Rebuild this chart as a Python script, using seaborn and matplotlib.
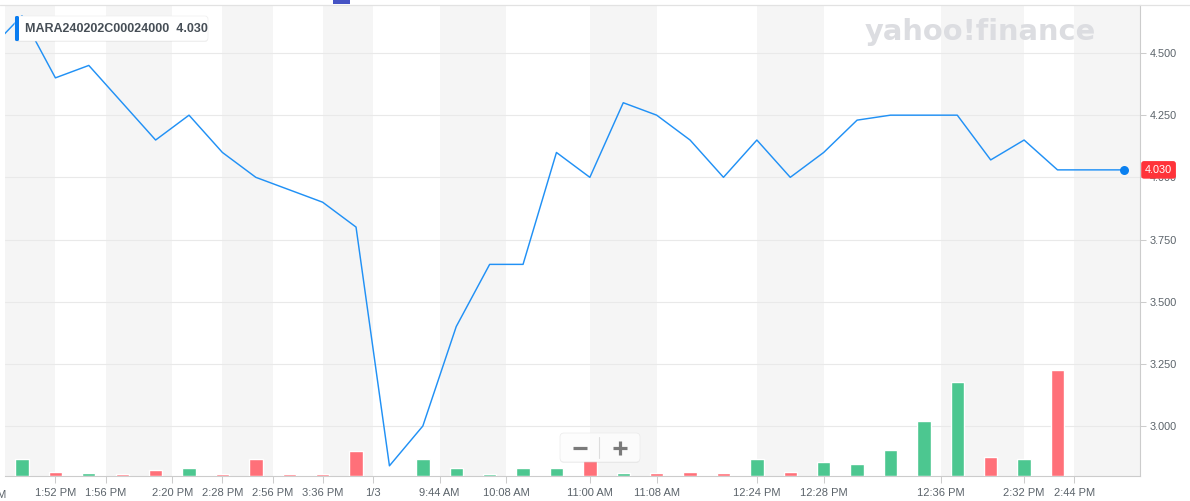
import matplotlib
matplotlib.use("Agg")
import matplotlib.pyplot as plt
import matplotlib.transforms as mtransforms
from matplotlib.patches import FancyBboxPatch, Rectangle
from matplotlib.lines import Line2D
import seaborn as sns
import pandas as pd

# ---------------- data ----------------
price_idx = list(range(-1, 34))
price = [4.51, 4.65, 4.40, 4.45, 4.30, 4.15, 4.25, 4.10, 4.00, 3.95, 3.90,
         3.80, 2.84, 3.00, 3.40, 3.65, 3.65, 4.10, 4.00, 4.30, 4.25, 4.15,
         4.00, 4.15, 4.00, 4.10, 4.23, 4.25, 4.25, 4.25, 4.07, 4.15, 4.03,
         4.03, 4.03]

vol_idx = list(range(0, 34))
volume = [17, 4, 3, 2, 6, 8, 2, 17, 2, 2, 25, 0, 17, 8, 2, 8, 8, 16, 3, 3,
          4, 3, 17, 4, 14, 12, 26, 55, 94, 19, 17, 106, 0, 0]
vol_dir = ["up", "down", "up", "down", "down", "up", "down", "down", "down",
           "down", "down", "none", "up", "up", "up", "up", "up", "down", "up",
           "down", "down", "down", "up", "down", "up", "up", "up", "up", "up",
           "down", "up", "down", "none", "none"]

tick_pos = [1, 2.5, 4.5, 6, 7.5, 9, 10.5, 12.5, 14.5, 17, 19, 22, 24, 27.5,
            30, 31.5]
tick_labels = ["1:52 PM", "1:56 PM", "2:20 PM", "2:28 PM", "2:56 PM",
               "3:36 PM", "1/3", "9:44 AM", "10:08 AM", "11:00 AM",
               "11:08 AM", "12:24 PM", "12:28 PM", "12:36 PM", "2:32 PM",
               "2:44 PM"]
first_label_pos = -1.1
first_label = "1:48 PM"

y_ticks = [3.0, 3.25, 3.5, 3.75, 4.0, 4.25, 4.5]
symbol = "MARA240202C00024000"

# ---------------- style ----------------
W, H = 1190, 501
sns.set_theme(style="white")
plt.rcParams["font.family"] = ["Liberation Sans", "DejaVu Sans"]

fig = plt.figure(figsize=(W / 100, H / 100), dpi=100)
fig.patch.set_facecolor("white")
ax = fig.add_axes([5 / W, 25 / H, 1135 / W, 471 / H])
ax.set_facecolor("white")
XLIM = (-0.509, 33.47)
YLIM = (2.799, 4.693)

# alternating stripes between tick positions
bounds = [XLIM[0]] + tick_pos + [XLIM[1]]
for k in range(len(bounds) - 1):
    if k % 2 == 0:
        ax.axvspan(bounds[k], bounds[k + 1], color="#f5f5f5", lw=0, zorder=0.5)

ax.grid(axis="y", color="#e9e9e9", lw=0.8)
ax.grid(axis="x", visible=False)

df_p = pd.DataFrame({"i": price_idx, "price": price})
sns.lineplot(data=df_p, x="i", y="price", ax=ax, color="#2191f5",
             linewidth=1.05, zorder=3)
sns.scatterplot(x=[price_idx[-1]], y=[price[-1]], ax=ax, s=42,
                color="#0a80f0", linewidth=0, zorder=4)

# volume on twin axis
ax_v = ax.twinx()
df_v = pd.DataFrame({"i": vol_idx, "vol": volume, "dir": vol_dir})
df_v = df_v[df_v["vol"] > 0]
sns.barplot(data=df_v, x="i", y="vol", hue="dir", ax=ax_v,
            palette={"up": "#4cc790", "down": "#ff7079"}, native_scale=True,
            dodge=False, width=0.4, saturation=1, errorbar=None, legend=False)
ax_v.set_ylim(0, 471)
ax_v.set_yticks([])
ax_v.set_ylabel("")
for s in ax_v.spines.values():
    s.set_visible(False)

ax.set_xlim(*XLIM)
ax.set_ylim(*YLIM)
ax.yaxis.tick_right()
ax.set_yticks(y_ticks)
ax.set_yticklabels([f"{v:.3f}" for v in y_ticks])
ax.set_xticks(tick_pos)
ax.set_xticklabels(tick_labels)
ax.set_xlabel("")
ax.set_ylabel("")
ax.tick_params(axis="y", right=True, left=False, length=4, width=0.75,
               color="#cccccc", labelsize=7.8, labelcolor="#5b636a", pad=3)
ax.tick_params(axis="x", bottom=True, length=5, width=0.75, color="#cccccc",
               labelsize=8, labelcolor="#5b636a", pad=3.5)
for side in ["top", "left"]:
    ax.spines[side].set_visible(False)
for side in ["right", "bottom"]:
    ax.spines[side].set_color("#cccccc")
    ax.spines[side].set_linewidth(0.8)

# partially cut first label (as in the reference)
trans_x = mtransforms.blended_transform_factory(ax.transData, ax.transAxes)
ax.text(first_label_pos, -14 / 471, first_label, transform=trans_x,
        ha="center", va="top", fontsize=8, color="#5b636a", clip_on=False)

# last price tag
trans_y = mtransforms.blended_transform_factory(ax.transAxes, ax.transData)
ax.text(1 + 5 / 1135, price[-1], f"{price[-1]:.3f}", transform=trans_y,
        ha="left", va="center", fontsize=7.8, color="white", zorder=6,
        clip_on=False,
        bbox=dict(boxstyle="round,pad=0.35,rounding_size=0.25",
                  fc="#ff333a", ec="none"))

ident = mtransforms.IdentityTransform()

# top line and small blue marker
fig.add_artist(Line2D([0, W], [H - 5, H - 5], color="#e2e2e2", lw=0.9,
                      transform=ident))
fig.add_artist(Rectangle((333, H - 4), 17, 4, fc="#4553c4", ec="none",
                         transform=ident))

# watermark
fig.text(980 / W, 1 - 40 / H, "yahoo!finance", ha="center", va="baseline",
         fontsize=20.8, fontweight="bold", color="#dcdde1",
         family=["DejaVu Sans"])

# legend box
fig.add_artist(FancyBboxPatch((15, H - 42), 193, 26,
                              boxstyle="round,pad=0,rounding_size=3",
                              fc="#000000", ec="none", alpha=0.06,
                              transform=ident))
fig.add_artist(FancyBboxPatch((15, H - 41), 193, 25,
                              boxstyle="round,pad=0,rounding_size=3",
                              fc="white", ec="#eeeeee", lw=0.5,
                              transform=ident))
fig.add_artist(FancyBboxPatch((15, H - 41), 4, 25,
                              boxstyle="round,pad=0,rounding_size=1.5",
                              fc="#0a7cf0", ec="none", transform=ident))
fig.text(25 / W, 1 - 29 / H, f"{symbol}  {price[-1]:.3f}", ha="left",
         va="center", fontsize=9, fontweight="bold", color="#464e56")

# zoom buttons
fig.add_artist(FancyBboxPatch((560, H - 463), 80, 30,
                              boxstyle="round,pad=0,rounding_size=4",
                              fc="#000000", ec="none", alpha=0.05,
                              transform=ident))
fig.add_artist(FancyBboxPatch((560, H - 462), 80, 29,
                              boxstyle="round,pad=0,rounding_size=4",
                              fc="white", ec="#e8e8e8", lw=0.5, alpha=0.85,
                              transform=ident))
fig.add_artist(Line2D([599, 599], [H - 437, H - 458], color="#dddddd",
                      lw=0.8, transform=ident))
fig.add_artist(Line2D([573, 587], [H - 448, H - 448], color="#7a7a7a",
                      lw=2.3, transform=ident, solid_capstyle="butt"))
fig.add_artist(Line2D([613, 627], [H - 448, H - 448], color="#7a7a7a",
                      lw=2.3, transform=ident, solid_capstyle="butt"))
fig.add_artist(Line2D([620, 620], [H - 441, H - 455], color="#7a7a7a",
                      lw=2.3, transform=ident, solid_capstyle="butt"))

fig.savefig("out.png", dpi=100)
